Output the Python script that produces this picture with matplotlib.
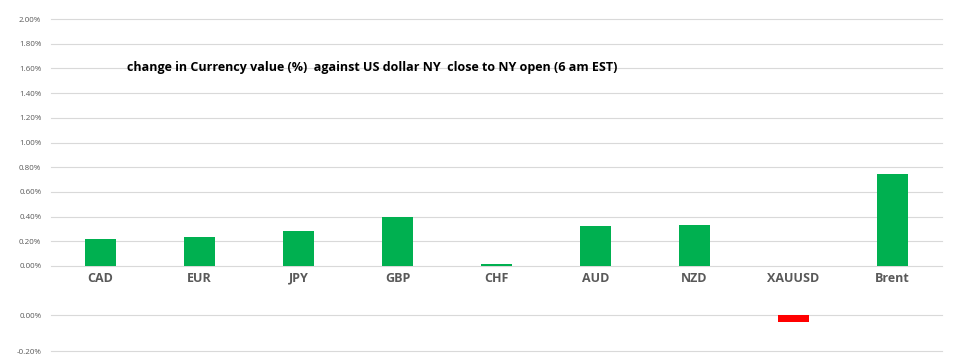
import matplotlib
matplotlib.use("Agg")
import matplotlib.pyplot as plt
from matplotlib.ticker import FuncFormatter

categories = ["CAD", "EUR", "JPY", "GBP", "CHF", "AUD", "NZD", "XAUUSD", "Brent"]
upper_values = [0.22, 0.235, 0.283, 0.397, 0.015, 0.324, 0.332, 0.0, 0.745]
lower_values = [0.0, 0.0, 0.0, 0.0, 0.0, 0.0, 0.0, -0.037, 0.0]
upper_ticks = [0.0, 0.2, 0.4, 0.6, 0.8, 1.0, 1.2, 1.4, 1.6, 1.8, 2.0]
lower_ticks = [-0.2, 0.0]
title = "change in Currency value (%)  against US dollar NY  close to NY open (6 am EST)"

W, H = 957, 356
fig = plt.figure(figsize=(W / 100, H / 100), dpi=100)
plt.rcParams['font.family'] = ['Open Sans', 'DejaVu Sans']

grid_c = "#d9d9d9"
lab_c = "#595959"
fmt = FuncFormatter(lambda v, p: f"{v:.2f}%")

def style(ax, ticks, ylim):
    ax.set_ylim(*ylim)
    ax.set_xlim(-0.5, len(categories) - 0.5)
    ax.set_yticks(ticks)
    ax.yaxis.set_major_formatter(fmt)
    ax.grid(axis="y", color=grid_c, linewidth=0.8)
    for gl in ax.get_ygridlines():
        gl.set_clip_on(False)
    ax.set_axisbelow(True)
    for s in ax.spines.values():
        s.set_visible(False)
    ax.tick_params(axis="y", length=0, labelsize=5.8, labelcolor=lab_c, pad=7)

ax1 = fig.add_axes([51 / W, (H - 266) / H, 891 / W, 247 / H])
x = list(range(len(categories)))
ax1.bar(x, upper_values, width=0.31, color="#00b050")
style(ax1, upper_ticks, (0, 2.0))
ax1.set_xticks(x)
ax1.set_xticklabels(categories, fontsize=9, fontweight="bold", color=lab_c)
ax1.tick_params(axis="x", length=0, pad=4)

ax2 = fig.add_axes([51 / W, (H - 351) / H, 891 / W, 36 / H])
ax2.bar(x, lower_values, width=0.31, color="#ff0000")
style(ax2, lower_ticks, (-0.2, 0.0))
ax2.set_xticks([])

fig.text(127 / W, 1 - 67 / H, title, fontsize=9.0, fontweight="bold", color="black", va="center", ha="left")

fig.savefig("out.png", dpi=100)
